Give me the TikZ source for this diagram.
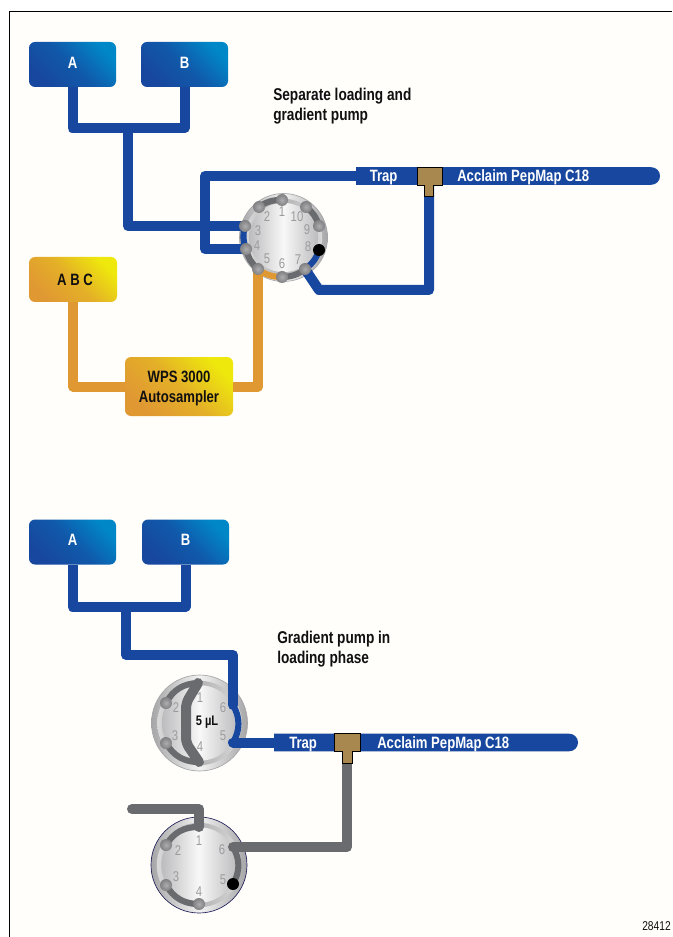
\documentclass[tikz,border=0pt]{standalone}
\usepackage{fontspec}
\usepackage{xcolor}
\usepackage{tikz}
\usetikzlibrary{positioning,shapes.misc}
\newfontfamily\FigureFont[FakeStretch=0.8]{Liberation Sans}
\definecolor{FigureInk}{HTML}{101010}
\definecolor{PaperTone}{HTML}{FFFEFA}
\definecolor{PipeBlue}{HTML}{17479E}
\definecolor{PumpLight}{HTML}{0087C8}
\definecolor{PipeOrange}{HTML}{E09833}
\definecolor{SamplerLight}{HTML}{EEE80C}
\definecolor{PipeGray}{HTML}{6A6B6E}
\definecolor{TeeBrown}{HTML}{A98850}
\definecolor{PortNumber}{HTML}{9C9C9E}
\definecolor{DiscEdge}{HTML}{A6A6A8}
\definecolor{DiscMid}{HTML}{F2F2F2}
\definecolor{RingEdge}{HTML}{D8D8D8}
\definecolor{RingMid}{HTML}{B4B4B6}
\definecolor{CoreEdge}{HTML}{BCBCBE}
\definecolor{CoreMid}{HTML}{F8F8F8}
\definecolor{BallLight}{HTML}{ADADAF}
\definecolor{BallDark}{HTML}{808082}
\definecolor{ValveNavy}{HTML}{20205A}
\newcommand{\FigureValve}[4]{%
  \node[valvedisc,draw=#4,minimum size=#3*1.5pt] (#1) at (#2) {};
  \node[valvering,minimum size=#3*1.32pt] (#1ring) at (#2) {};
  \node[valvecore,minimum size=#3*1.18pt] (#1core) at (#2) {};
}

\begin{document}
\begin{tikzpicture}[
  x=0.75pt,y=-0.75pt,
  font=\FigureFont\bfseries\fontsize{12.3}{15}\selectfont,
  text=FigureInk,
  pipe/.style={line width=7.5pt,line join=round},
  link/.style={line width=4.6pt},
  pump/.style={rounded corners=4.5pt,minimum width=65.25pt,minimum height=33.75pt,inner sep=0pt,text=white,text depth=3pt,
    left color=PipeBlue,right color=PumpLight,middle color=PipeBlue!72!PumpLight,shading angle=135},
  sampler/.style={rounded corners=4.5pt,inner sep=0pt,align=center,
    left color=PipeOrange,right color=SamplerLight,middle color=PipeOrange!70!SamplerLight,shading angle=135},
  column/.style={rounded rectangle,rounded rectangle left arc=none,fill=PipeBlue,minimum width=228pt,minimum height=13.2pt,inner sep=0pt},
  tee/.style={draw=black,line width=0.7pt,fill=TeeBrown,line join=miter},
  caption/.style={align=left,anchor=west,inner sep=0pt,font=\FigureFont\bfseries\fontsize{12.8}{15}\selectfont},
  onpipe/.style={text=white,anchor=base west,inner sep=0pt},
  valvedisc/.style={circle,inner sep=0pt,line width=0.5pt,left color=DiscEdge,right color=DiscEdge,middle color=DiscMid},
  valvering/.style={circle,inner sep=0pt,left color=RingEdge,right color=RingEdge,middle color=RingMid},
  valvecore/.style={circle,inner sep=0pt,left color=CoreEdge,right color=CoreEdge,middle color=CoreMid},
  port/.style={circle,inner sep=0pt,minimum size=9pt,inner color=BallLight,outer color=BallDark},
  stopport/.style={circle,inner sep=0pt,minimum size=9pt,fill=black},
  portnum/.style={font=\FigureFont\fontsize{10.6}{11}\selectfont,text=PortNumber,inner sep=0pt},
]
  \useasboundingbox (0,0) rectangle (672,937);
  \fill[PaperTone] (9,12) rectangle (672,937);
  \draw[line width=1.1pt] (9.5,937) -- (9.5,11.5) -- (672,11.5);

  % upper scheme
  \node[pump] (pumpA) at (72.5,64.5) {A};
  \node[pump] (pumpB) at (184.5,64.5) {B};
  \node[sampler,minimum width=66pt,minimum height=33.75pt] (solvent) at (73,279.5) {\hspace*{3pt}A B C};
  \node[sampler,minimum width=81pt,minimum height=44.25pt] (autosampler) at (179,386.5) {\rule{0pt}{11pt}WPS 3000\\Autosampler};
  \node[column] (trapcolumn) at (508,176) {};

  \FigureValve{inject}{283.5,237.5}{44}{DiscEdge}
  \foreach \num/\spot in {1/{282,200},2/{259,207},3/{245,226},4/{246,249},5/{258,269},6/{282,277},7/{305,269},8/{319,250},9/{319,226},10/{306,207}}
    \coordinate (inject\num) at (\spot);
  \foreach \num/\spot in {1/{282,212},2/{267,217},3/{258,231},4/{257,246},5/{267,259},6/{282,264},7/{298,260},8/{308,247},9/{307,230},10/{297,217}}
    \node[portnum] (injectnum\num) at (\spot) {\num};

  \coordinate (uppertee) at (429,176);
  \coordinate (manifold) at (128,128);

  \draw[pipe,PipeBlue] (pumpA.south) -- ++(0,41) -| (pumpB.south);
  \draw[pipe,PipeBlue] (manifold) |- (inject3);
  \draw[pipe,PipeBlue] (inject4) -- ++(-41,0) |- (trapcolumn.west);
  \draw[pipe,PipeBlue] (uppertee) -- ++(0,114) -- ++(-110,0) -- (inject7);
  \draw[pipe,PipeOrange] (solvent.south) |- (autosampler.west);
  \draw[pipe,PipeOrange] (autosampler.east) -| (inject5);

  \draw[link,PipeGray] (inject2) to[bend left=18] (inject1);
  \draw[link,PipeGray] (inject10) to[bend left=18] (inject9);
  \draw[link,PipeGray] (inject4) to[bend right=18] (inject5);
  \draw[link,PipeGray] (inject6) to[bend right=18] (inject7);
  \draw[link,PipeOrange] (inject5) to[bend right=18] (inject6);
  \draw[link,PipeBlue] (inject3) to[bend right=18] (inject4);
  \draw[link,PipeBlue] (inject7) to[bend right=18] (inject8);

  \foreach \num in {1,2,3,4,5,6,7,9,10}
    \node[port] (injectball\num) at (inject\num) {};
  \node[stopport] (injectstop) at (inject8) {};

  \draw[tee] (417,167.5) -- (442,167.5) -- (442,185) -- (433,185) -- (433,196) -- (424.5,196) -- (424.5,185) -- (417,185) -- cycle;
  \node[onpipe] (traplabel) at (369.5,182) {Trap};
  \node[onpipe] (columnlabel) at (457,182) {Acclaim PepMap C18};
  \node[caption] (separatecaption) at (273,106) {Separate loading and\\gradient pump};

  % lower scheme
  \node[pump] (pumpC) at (72.5,542) {A};
  \node[pump] (pumpD) at (185.5,542) {B};
  \node[column] (loadcolumn) at (426,742.5) {};

  \FigureValve{loop}{199.5,723}{48}{DiscEdge}
  \FigureValve{waste}{199,865}{48}{ValveNavy}
  \foreach \num/\spot in {1/{198,683},2/{166,703},3/{166,743},4/{199,762},5/{233,742.5},6/{233,705}}
    \coordinate (loop\num) at (\spot);
  \foreach \num/\spot in {1/{199,827},2/{166,845},3/{166,885},4/{199,904},5/{233,884},6/{233,847}}
    \coordinate (waste\num) at (\spot);
  \foreach \num/\spot in {1/{200,698},2/{176,708},3/{175,736},4/{200,747},5/{223,736},6/{223,708}}
    \node[portnum] (loopnum\num) at (\spot) {\num};
  \foreach \num/\spot in {1/{199,841},2/{178,851},3/{176,877},4/{199,892},5/{223,880},6/{222,850}}
    \node[portnum] (wastenum\num) at (\spot) {\num};

  \coordinate (lowertee) at (347,742);
  \coordinate (lowermanifold) at (126,609);
  \coordinate (drain) at (132,809);

  \draw[pipe,PipeBlue] (pumpC.south) -- ++(0,42) -| (pumpD.south);
  \draw[pipe,PipeBlue,line cap=round] (lowermanifold) |- (233,655) -- (loop6);
  \draw[pipe,PipeBlue,line cap=round] (loop5) -- (loadcolumn.west);
  \draw[link,PipeBlue] (loop6) to[bend left=30] (loop5);
  \draw[link,PipeGray] (loop2) to[bend left=30] (loop1);
  \draw[link,PipeGray] (loop3) to[bend right=30] (loop4);
  \draw[pipe,PipeGray,line cap=round,rounded corners=4pt] (loop1) -- (186,703) -- (186,743) -- (loop4);

  \draw[link,PipeGray] (waste2) to[bend left=30] (waste1);
  \draw[link,PipeGray] (waste3) to[bend right=30] (waste4);
  \draw[link,PipeGray] (waste6) to[bend left=30] (waste5);
  \draw[pipe,PipeGray,line cap=round] (drain) -| (waste1);
  \draw[pipe,PipeGray,line cap=round] (lowertee) |- (waste6);

  \foreach \num in {2,3}
    \node[port] (loopball\num) at (loop\num) {};
  \foreach \num in {2,3,4}
    \node[port] (wasteball\num) at (waste\num) {};
  \node[stopport] (wastestop) at (waste5) {};

  \draw[tee] (334.5,733.5) -- (360,733.5) -- (360,751) -- (352,751) -- (352,763) -- (342,763) -- (342,751) -- (334.5,751) -- cycle;
  \node[onpipe] (trapnote) at (289,748) {Trap};
  \node[onpipe] (columnnote) at (377,748) {Acclaim PepMap C18};
  \node[font=\FigureFont\bfseries\fontsize{10.4}{12}\selectfont] (looplabel) at (207,722) {5 µL};
  \node[caption] (loadingcaption) at (277,649) {Gradient pump in\\loading phase};

  \node[anchor=east,inner sep=0pt,font=\FigureFont\fontsize{9.6}{11}\selectfont] (figurenumber) at (671,926) {28412};
\end{tikzpicture}
\end{document}
